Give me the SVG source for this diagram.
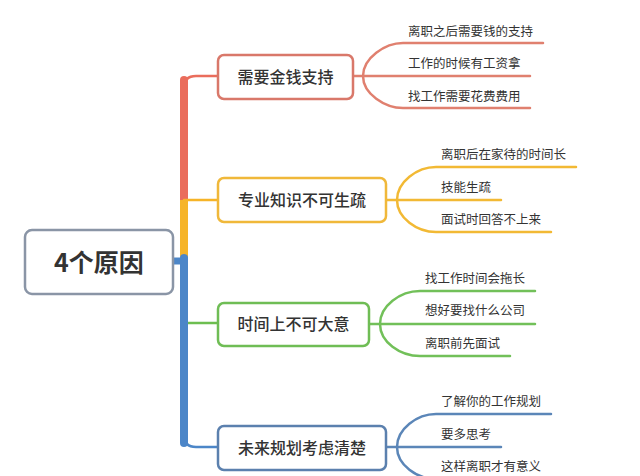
<svg xmlns="http://www.w3.org/2000/svg" width="640" height="476" viewBox="0 0 640 476">
<style>
.box{fill:#fff;stroke-width:2.5}
.t{font-family:"Noto Sans CJK SC","Noto Sans",sans-serif;fill:#333}
.main{font-size:16px;font-weight:500;text-anchor:middle}
.sub{font-size:12.5px}
.ln{fill:none;stroke-width:2.5;stroke-linecap:round}
.trunk{fill:none;stroke-width:8}
.r{stroke:#e0806f}.y{stroke:#f2b934}.g{stroke:#72c059}.b{stroke:#5b86b8}
</style>
<rect width="640" height="476" fill="#fff"/>
<g id="connectors">
  <!-- trunk -->
  <line class="trunk" x1="184" y1="201" x2="184" y2="80" stroke="#ea6d5c" stroke-linecap="round"/>
  <path class="ln" d="M184,88 Q184,76 196,76 L218,76" stroke="#ea6d5c" stroke-width="3"/>
  <line class="trunk" x1="184" y1="200" x2="184" y2="260" stroke="#f6b428"/>
  <path class="ln" d="M184,200 L218,200" stroke="#f6b428" stroke-width="3"/>
  <path class="ln" d="M184,323 L218,323" stroke="#6dbe50" stroke-width="3"/>
  <line class="trunk" x1="184" y1="258" x2="184" y2="443" stroke="#4c86c8" stroke-linecap="round"/>
  <path class="ln" d="M184,435 Q184,447 196,447 L218,447" stroke="#4c86c8" stroke-width="3"/>
  <line x1="172" y1="261" x2="188" y2="261" stroke="#4c86c8" stroke-width="7"/>
  <!-- group 1 -->
  <path class="ln r" d="M353,76 L530,76"/>
  <path class="ln r" d="M363,76 C363,58 385,43 403,43 L543,43"/>
  <path class="ln r" d="M363,76 C363,94 385,108 403,108 L530,108"/>
  <!-- group 2 -->
  <path class="ln y" d="M386,200 L501,200"/>
  <path class="ln y" d="M397,200 C397,182 417,167 436,167 L576,167"/>
  <path class="ln y" d="M397,200 C397,218 417,232 436,232 L551,232"/>
  <!-- group 3 -->
  <path class="ln g" d="M369,324 L535,324"/>
  <path class="ln g" d="M380,324 C380,306 400,291 420,291 L535,291"/>
  <path class="ln g" d="M380,324 C380,342 400,356 420,356 L510,356"/>
  <!-- group 4 -->
  <path class="ln b" d="M386,447 L501,447"/>
  <path class="ln b" d="M397,447 C397,429 417,414 436,414 L551,414"/>
  <path class="ln b" d="M397,447 C397,465 417,479 436,479 L551,479"/>
</g>
<g id="root">
  <rect class="box" x="25" y="230" width="148" height="64" rx="7" stroke="#8a95a6"/>
  <text class="t" x="99" y="272" font-size="25" font-weight="bold" text-anchor="middle">4个原因</text>
</g>
<g id="n1">
  <rect class="box" x="218" y="55" width="135" height="44" rx="6" stroke="#d9786a"/>
  <text class="t main" x="285.5" y="83">需要金钱支持</text>
</g>
<g id="n2">
  <rect class="box" x="218" y="178" width="168" height="44" rx="6" stroke="#f0b83a"/>
  <text class="t main" x="302" y="206">专业知识不可生疏</text>
</g>
<g id="n3">
  <rect class="box" x="218" y="303" width="151" height="43" rx="6" stroke="#6fbd55"/>
  <text class="t main" x="293.5" y="330">时间上不可大意</text>
</g>
<g id="n4">
  <rect class="box" x="218" y="426" width="168" height="44" rx="6" stroke="#5b80ae"/>
  <text class="t main" x="302" y="454">未来规划考虑清楚</text>
</g>
<g id="s1a"><text class="t sub" x="408" y="36">离职之后需要钱的支持</text></g>
<g id="s1b"><text class="t sub" x="408" y="68">工作的时候有工资拿</text></g>
<g id="s1c"><text class="t sub" x="408" y="101">找工作需要花费费用</text></g>
<g id="s2a"><text class="t sub" x="441" y="159">离职后在家待的时间长</text></g>
<g id="s2b"><text class="t sub" x="441" y="192">技能生疏</text></g>
<g id="s2c"><text class="t sub" x="441" y="224">面试时回答不上来</text></g>
<g id="s3a"><text class="t sub" x="425" y="283">找工作时间会拖长</text></g>
<g id="s3b"><text class="t sub" x="425" y="315">想好要找什么公司</text></g>
<g id="s3c"><text class="t sub" x="425" y="348">离职前先面试</text></g>
<g id="s4a"><text class="t sub" x="441" y="406">了解你的工作规划</text></g>
<g id="s4b"><text class="t sub" x="441" y="439">要多思考</text></g>
<g id="s4c"><text class="t sub" x="441" y="471">这样离职才有意义</text></g>
</svg>
